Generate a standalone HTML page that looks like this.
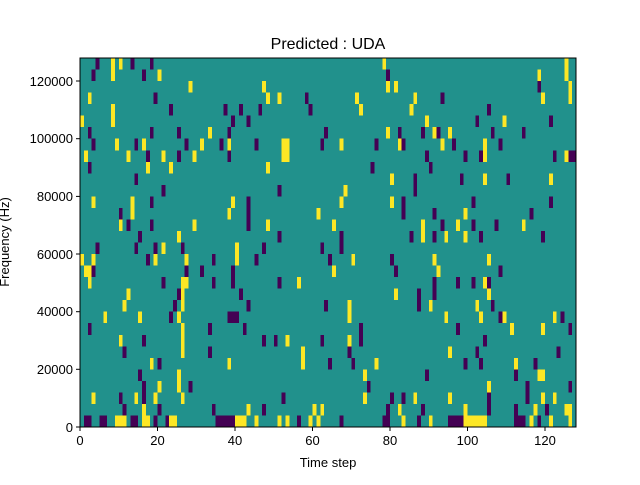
<!DOCTYPE html><html><head><style>body{margin:0;background:#fff}svg text{font-family:"Liberation Sans",sans-serif;fill:#000}</style></head><body>
<svg width="640" height="480" xmlns="http://www.w3.org/2000/svg">
<text x="328" y="49" font-size="16" text-anchor="middle">Predicted : UDA</text>
<svg x="80" y="58" width="496" height="369" viewBox="0 0 128 32" preserveAspectRatio="none" shape-rendering="crispEdges">
<rect width="128" height="32" fill="#21918c"/>
<g fill="#440154">
<rect x="1" y="31" width="2" height="1"/><rect x="5" y="31" width="2" height="1"/><rect x="13" y="31" width="2" height="1"/><rect x="19" y="31" width="1" height="1"/><rect x="22" y="31" width="1" height="1"/><rect x="35" y="31" width="5" height="1"/><rect x="56" y="31" width="1" height="1"/><rect x="67" y="31" width="1" height="1"/><rect x="78" y="31" width="2" height="1"/><rect x="87" y="31" width="1" height="1"/><rect x="95" y="31" width="4" height="1"/><rect x="112" y="31" width="3" height="1"/><rect x="118" y="31" width="1" height="1"/>
<rect x="11" y="30" width="1" height="1"/><rect x="20" y="30" width="1" height="1"/><rect x="34" y="30" width="1" height="1"/><rect x="47" y="30" width="1" height="1"/><rect x="79" y="30" width="1" height="1"/><rect x="88" y="30" width="1" height="1"/><rect x="105" y="30" width="1" height="1"/><rect x="112" y="30" width="1" height="1"/><rect x="120" y="30" width="1" height="1"/>
<rect x="10" y="29" width="1" height="1"/><rect x="16" y="29" width="1" height="1"/><rect x="52" y="29" width="1" height="1"/><rect x="80" y="29" width="1" height="1"/><rect x="83" y="29" width="1" height="1"/><rect x="105" y="29" width="1" height="1"/><rect x="115" y="29" width="1" height="1"/>
<rect x="16" y="28" width="1" height="1"/><rect x="28" y="28" width="1" height="1"/><rect x="74" y="28" width="1" height="1"/><rect x="115" y="28" width="1" height="1"/><rect x="126" y="28" width="1" height="1"/>
<rect x="15" y="27" width="1" height="1"/><rect x="89" y="27" width="1" height="1"/><rect x="112" y="27" width="1" height="1"/>
<rect x="20" y="26" width="1" height="1"/><rect x="64" y="26" width="1" height="1"/><rect x="70" y="26" width="1" height="1"/><rect x="103" y="26" width="1" height="1"/><rect x="117" y="26" width="1" height="1"/><rect x="99" y="26" width="1" height="1"/>
<rect x="11" y="25" width="1" height="1"/><rect x="33" y="25" width="1" height="1"/><rect x="69" y="25" width="1" height="1"/><rect x="102" y="25" width="1" height="1"/><rect x="123" y="25" width="1" height="1"/>
<rect x="16" y="24" width="1" height="1"/><rect x="47" y="24" width="1" height="1"/><rect x="50" y="24" width="1" height="1"/><rect x="62" y="24" width="1" height="1"/><rect x="72" y="24" width="1" height="1"/><rect x="104" y="24" width="1" height="1"/>
<rect x="2" y="23" width="1" height="1"/><rect x="33" y="23" width="1" height="1"/><rect x="42" y="23" width="1" height="1"/><rect x="72" y="23" width="1" height="1"/><rect x="97" y="23" width="1" height="1"/><rect x="126" y="23" width="1" height="1"/>
<rect x="23" y="22" width="1" height="1"/><rect x="38" y="22" width="3" height="1"/><rect x="108" y="22" width="1" height="1"/><rect x="124" y="22" width="1" height="1"/>
<rect x="24" y="21" width="1" height="1"/><rect x="43" y="21" width="1" height="1"/><rect x="63" y="21" width="1" height="1"/><rect x="87" y="21" width="1" height="1"/><rect x="106" y="21" width="1" height="1"/>
<rect x="25" y="20" width="1" height="1"/><rect x="41" y="20" width="1" height="1"/><rect x="87" y="20" width="1" height="1"/><rect x="91" y="20" width="1" height="1"/>
<rect x="21" y="19" width="1" height="1"/><rect x="34" y="19" width="1" height="1"/><rect x="39" y="19" width="1" height="1"/><rect x="51" y="19" width="1" height="1"/><rect x="91" y="19" width="1" height="1"/><rect x="97" y="19" width="1" height="1"/><rect x="101" y="19" width="1" height="1"/><rect x="105" y="19" width="1" height="1"/>
<rect x="3" y="18" width="1" height="1"/><rect x="27" y="18" width="1" height="1"/><rect x="31" y="18" width="1" height="1"/><rect x="39" y="18" width="1" height="1"/><rect x="81" y="18" width="1" height="1"/><rect x="108" y="18" width="1" height="1"/>
<rect x="17" y="17" width="1" height="1"/><rect x="34" y="17" width="1" height="1"/><rect x="45" y="17" width="1" height="1"/><rect x="64" y="17" width="1" height="1"/><rect x="80" y="17" width="1" height="1"/>
<rect x="4" y="16" width="1" height="1"/><rect x="14" y="16" width="1" height="1"/><rect x="19" y="16" width="1" height="1"/><rect x="26" y="16" width="1" height="1"/><rect x="47" y="16" width="1" height="1"/><rect x="62" y="16" width="1" height="1"/><rect x="67" y="16" width="1" height="1"/>
<rect x="15" y="15" width="1" height="1"/><rect x="51" y="15" width="1" height="1"/><rect x="67" y="15" width="1" height="1"/><rect x="85" y="15" width="1" height="1"/><rect x="91" y="15" width="1" height="1"/><rect x="103" y="15" width="1" height="1"/><rect x="119" y="15" width="1" height="1"/>
<rect x="12" y="14" width="1" height="1"/><rect x="18" y="14" width="1" height="1"/><rect x="43" y="14" width="1" height="1"/><rect x="93" y="14" width="1" height="1"/><rect x="101" y="14" width="1" height="1"/><rect x="107" y="14" width="1" height="1"/>
<rect x="10" y="13" width="1" height="1"/><rect x="43" y="13" width="1" height="1"/><rect x="83" y="13" width="1" height="1"/><rect x="91" y="13" width="1" height="1"/><rect x="116" y="13" width="1" height="1"/>
<rect x="18" y="12" width="1" height="1"/><rect x="43" y="12" width="1" height="1"/><rect x="83" y="12" width="1" height="1"/><rect x="101" y="12" width="1" height="1"/><rect x="121" y="12" width="1" height="1"/>
<rect x="21" y="11" width="1" height="1"/><rect x="51" y="11" width="1" height="1"/><rect x="86" y="11" width="1" height="1"/>
<rect x="14" y="10" width="1" height="1"/><rect x="86" y="10" width="1" height="1"/><rect x="98" y="10" width="1" height="1"/><rect x="110" y="10" width="1" height="1"/>
<rect x="2" y="9" width="1" height="1"/><rect x="75" y="9" width="1" height="1"/><rect x="90" y="9" width="1" height="1"/>
<rect x="17" y="8" width="1" height="1"/><rect x="25" y="8" width="1" height="1"/><rect x="38" y="8" width="1" height="1"/><rect x="89" y="8" width="1" height="1"/><rect x="99" y="8" width="1" height="1"/><rect x="103" y="8" width="1" height="1"/><rect x="122" y="8" width="1" height="1"/><rect x="126" y="8" width="2" height="1"/>
<rect x="3" y="7" width="1" height="1"/><rect x="14" y="7" width="1" height="1"/><rect x="27" y="7" width="1" height="1"/><rect x="36" y="7" width="1" height="1"/><rect x="45" y="7" width="1" height="1"/><rect x="62" y="7" width="1" height="1"/><rect x="76" y="7" width="1" height="1"/><rect x="83" y="7" width="1" height="1"/><rect x="96" y="7" width="1" height="1"/><rect x="108" y="7" width="1" height="1"/>
<rect x="2" y="6" width="1" height="1"/><rect x="18" y="6" width="1" height="1"/><rect x="25" y="6" width="1" height="1"/><rect x="38" y="6" width="1" height="1"/><rect x="63" y="6" width="1" height="1"/><rect x="82" y="6" width="1" height="1"/><rect x="88" y="6" width="1" height="1"/><rect x="92" y="6" width="1" height="1"/><rect x="106" y="6" width="1" height="1"/><rect x="114" y="6" width="1" height="1"/>
<rect x="39" y="5" width="1" height="1"/><rect x="43" y="5" width="1" height="1"/><rect x="102" y="5" width="1" height="1"/><rect x="121" y="5" width="1" height="1"/>
<rect x="23" y="4" width="1" height="1"/><rect x="37" y="4" width="1" height="1"/><rect x="41" y="4" width="1" height="1"/><rect x="46" y="4" width="1" height="1"/><rect x="59" y="4" width="1" height="1"/><rect x="105" y="4" width="1" height="1"/>
<rect x="19" y="3" width="1" height="1"/><rect x="58" y="3" width="1" height="1"/><rect x="93" y="3" width="1" height="1"/>
<rect x="118" y="2" width="1" height="1"/>
<rect x="3" y="1" width="1" height="1"/><rect x="16" y="1" width="1" height="1"/><rect x="79" y="1" width="1" height="1"/>
<rect x="4" y="0" width="1" height="1"/><rect x="13" y="0" width="1" height="1"/><rect x="18" y="0" width="1" height="1"/>
</g>
<g fill="#fde725">
<rect x="9" y="31" width="3" height="1"/><rect x="16" y="31" width="2" height="1"/><rect x="23" y="31" width="2" height="1"/><rect x="40" y="31" width="3" height="1"/><rect x="45" y="31" width="1" height="1"/><rect x="51" y="31" width="1" height="1"/><rect x="53" y="31" width="1" height="1"/><rect x="59" y="31" width="1" height="1"/><rect x="61" y="31" width="1" height="1"/><rect x="83" y="31" width="1" height="1"/><rect x="90" y="31" width="1" height="1"/><rect x="99" y="31" width="6" height="1"/><rect x="116" y="31" width="1" height="1"/><rect x="121" y="31" width="1" height="1"/><rect x="126" y="31" width="1" height="1"/>
<rect x="16" y="30" width="1" height="1"/><rect x="43" y="30" width="1" height="1"/><rect x="60" y="30" width="1" height="1"/><rect x="62" y="30" width="1" height="1"/><rect x="82" y="30" width="1" height="1"/><rect x="99" y="30" width="1" height="1"/><rect x="117" y="30" width="1" height="1"/><rect x="125" y="30" width="2" height="1"/>
<rect x="3" y="29" width="1" height="1"/><rect x="14" y="29" width="1" height="1"/><rect x="19" y="29" width="1" height="1"/><rect x="26" y="29" width="1" height="1"/><rect x="73" y="29" width="1" height="1"/><rect x="86" y="29" width="1" height="1"/><rect x="95" y="29" width="1" height="1"/><rect x="119" y="29" width="1" height="1"/><rect x="122" y="29" width="1" height="1"/>
<rect x="20" y="28" width="1" height="1"/><rect x="25" y="28" width="1" height="1"/><rect x="105" y="28" width="1" height="1"/>
<rect x="25" y="27" width="1" height="1"/><rect x="73" y="27" width="1" height="1"/><rect x="118" y="27" width="2" height="1"/>
<rect x="18" y="26" width="1" height="1"/><rect x="38" y="26" width="1" height="1"/><rect x="57" y="26" width="1" height="1"/><rect x="76" y="26" width="1" height="1"/><rect x="112" y="26" width="1" height="1"/>
<rect x="26" y="25" width="1" height="1"/><rect x="57" y="25" width="1" height="1"/><rect x="95" y="25" width="1" height="1"/>
<rect x="10" y="24" width="1" height="1"/><rect x="26" y="24" width="1" height="1"/><rect x="53" y="24" width="1" height="1"/><rect x="69" y="24" width="1" height="1"/>
<rect x="26" y="23" width="1" height="1"/><rect x="111" y="23" width="1" height="1"/><rect x="119" y="23" width="1" height="1"/>
<rect x="6" y="22" width="1" height="1"/><rect x="15" y="22" width="1" height="1"/><rect x="25" y="22" width="1" height="1"/><rect x="69" y="22" width="1" height="1"/><rect x="94" y="22" width="1" height="1"/><rect x="103" y="22" width="1" height="1"/><rect x="109" y="22" width="1" height="1"/><rect x="122" y="22" width="1" height="1"/>
<rect x="11" y="21" width="1" height="1"/><rect x="26" y="21" width="1" height="1"/><rect x="69" y="21" width="1" height="1"/><rect x="90" y="21" width="1" height="1"/><rect x="102" y="21" width="1" height="1"/>
<rect x="12" y="20" width="1" height="1"/><rect x="26" y="20" width="1" height="1"/><rect x="81" y="20" width="1" height="1"/><rect x="105" y="20" width="1" height="1"/>
<rect x="2" y="19" width="1" height="1"/><rect x="26" y="19" width="2" height="1"/><rect x="56" y="19" width="1" height="1"/><rect x="104" y="19" width="1" height="1"/>
<rect x="1" y="18" width="2" height="1"/><rect x="65" y="18" width="1" height="1"/><rect x="92" y="18" width="1" height="1"/>
<rect x="0" y="17" width="1" height="1"/><rect x="3" y="17" width="1" height="1"/><rect x="19" y="17" width="1" height="1"/><rect x="27" y="17" width="1" height="1"/><rect x="40" y="17" width="1" height="1"/><rect x="70" y="17" width="1" height="1"/><rect x="91" y="17" width="1" height="1"/><rect x="105" y="17" width="1" height="1"/>
<rect x="21" y="16" width="1" height="1"/><rect x="40" y="16" width="1" height="1"/>
<rect x="25" y="15" width="1" height="1"/><rect x="88" y="15" width="1" height="1"/><rect x="94" y="15" width="1" height="1"/><rect x="99" y="15" width="1" height="1"/>
<rect x="10" y="14" width="1" height="1"/><rect x="29" y="14" width="1" height="1"/><rect x="48" y="14" width="1" height="1"/><rect x="65" y="14" width="1" height="1"/><rect x="88" y="14" width="1" height="1"/><rect x="97" y="14" width="1" height="1"/><rect x="114" y="14" width="1" height="1"/>
<rect x="13" y="13" width="1" height="1"/><rect x="38" y="13" width="1" height="1"/><rect x="61" y="13" width="1" height="1"/><rect x="99" y="13" width="1" height="1"/>
<rect x="3" y="12" width="1" height="1"/><rect x="13" y="12" width="1" height="1"/><rect x="39" y="12" width="1" height="1"/><rect x="67" y="12" width="1" height="1"/><rect x="80" y="12" width="1" height="1"/>
<rect x="68" y="11" width="1" height="1"/>
<rect x="80" y="10" width="1" height="1"/><rect x="104" y="10" width="1" height="1"/><rect x="121" y="10" width="1" height="1"/>
<rect x="17" y="9" width="1" height="1"/><rect x="23" y="9" width="1" height="1"/><rect x="48" y="9" width="1" height="1"/>
<rect x="1" y="8" width="1" height="1"/><rect x="12" y="8" width="1" height="1"/><rect x="21" y="8" width="1" height="1"/><rect x="29" y="8" width="1" height="1"/><rect x="52" y="8" width="2" height="1"/><rect x="104" y="8" width="1" height="1"/><rect x="125" y="8" width="1" height="1"/>
<rect x="9" y="7" width="1" height="1"/><rect x="16" y="7" width="1" height="1"/><rect x="31" y="7" width="1" height="1"/><rect x="38" y="7" width="1" height="1"/><rect x="52" y="7" width="2" height="1"/><rect x="67" y="7" width="1" height="1"/><rect x="82" y="7" width="1" height="1"/><rect x="93" y="7" width="1" height="1"/><rect x="104" y="7" width="1" height="1"/>
<rect x="33" y="6" width="1" height="1"/><rect x="79" y="6" width="1" height="1"/><rect x="91" y="6" width="1" height="1"/><rect x="95" y="6" width="1" height="1"/>
<rect x="0" y="5" width="1" height="1"/><rect x="8" y="5" width="1" height="1"/><rect x="89" y="5" width="1" height="1"/><rect x="109" y="5" width="1" height="1"/>
<rect x="8" y="4" width="1" height="1"/><rect x="72" y="4" width="1" height="1"/><rect x="85" y="4" width="1" height="1"/>
<rect x="2" y="3" width="1" height="1"/><rect x="48" y="3" width="1" height="1"/><rect x="51" y="3" width="1" height="1"/><rect x="71" y="3" width="1" height="1"/><rect x="86" y="3" width="1" height="1"/><rect x="119" y="3" width="1" height="1"/><rect x="126" y="3" width="1" height="1"/>
<rect x="28" y="2" width="1" height="1"/><rect x="47" y="2" width="1" height="1"/><rect x="79" y="2" width="1" height="1"/><rect x="81" y="2" width="1" height="1"/><rect x="126" y="2" width="1" height="1"/>
<rect x="8" y="1" width="1" height="1"/><rect x="20" y="1" width="1" height="1"/><rect x="118" y="1" width="1" height="1"/><rect x="125" y="1" width="1" height="1"/>
<rect x="8" y="0" width="1" height="1"/><rect x="10" y="0" width="1" height="1"/><rect x="78" y="0" width="1" height="1"/><rect x="125" y="0" width="1" height="1"/>
</g>
</svg>
<rect x="80" y="58" width="496" height="369" fill="none" stroke="#000" stroke-width="1"/>
<g stroke="#000" stroke-width="1">
<line x1="80" y1="427" x2="80" y2="431"/><line x1="157.5" y1="427" x2="157.5" y2="431"/><line x1="235" y1="427" x2="235" y2="431"/><line x1="312.5" y1="427" x2="312.5" y2="431"/><line x1="390" y1="427" x2="390" y2="431"/><line x1="467.5" y1="427" x2="467.5" y2="431"/><line x1="545" y1="427" x2="545" y2="431"/>
<line x1="76" y1="427" x2="80" y2="427"/><line x1="76" y1="369.3" x2="80" y2="369.3"/><line x1="76" y1="311.7" x2="80" y2="311.7"/><line x1="76" y1="254" x2="80" y2="254"/><line x1="76" y1="196.4" x2="80" y2="196.4"/><line x1="76" y1="138.7" x2="80" y2="138.7"/><line x1="76" y1="81" x2="80" y2="81"/>
</g>
<g font-size="13" text-anchor="middle">
<text x="80" y="445">0</text><text x="157.5" y="445">20</text><text x="235" y="445">40</text><text x="312.5" y="445">60</text><text x="390" y="445">80</text><text x="467.5" y="445">100</text><text x="545" y="445">120</text>
</g>
<g font-size="13" text-anchor="end">
<text x="73" y="432">0</text><text x="73" y="374">20000</text><text x="73" y="316">40000</text><text x="73" y="259">60000</text><text x="73" y="201">80000</text><text x="73" y="143">100000</text><text x="73" y="86">120000</text>
</g>
<text x="328" y="467" font-size="13" text-anchor="middle">Time step</text>
<text transform="translate(9,242) rotate(-90)" font-size="13" text-anchor="middle">Frequency (Hz)</text>
</svg>
</body></html>
